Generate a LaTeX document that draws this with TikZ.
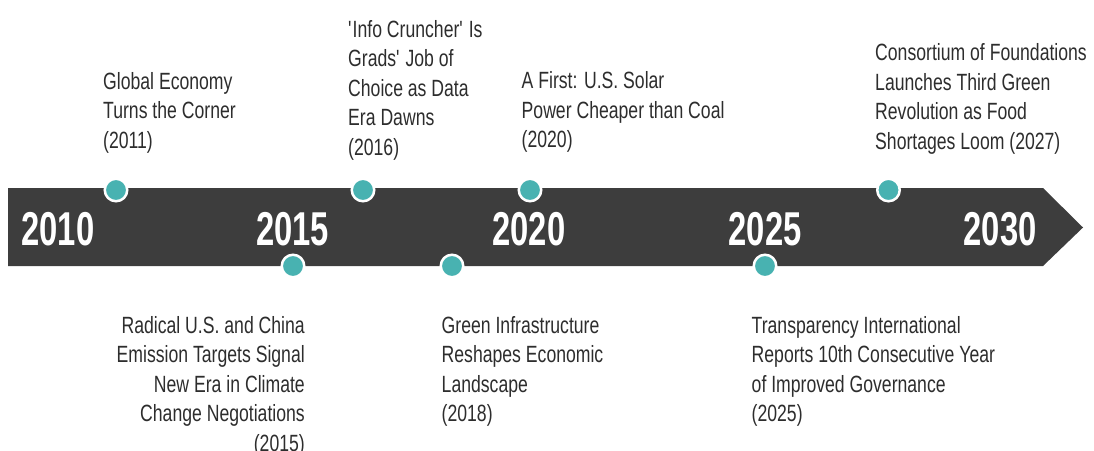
\documentclass[tikz,border=0pt]{standalone}
\usepackage{fontspec}
\setmainfont[FakeStretch=0.75]{Liberation Sans}
\newfontfamily\yearfont[FakeStretch=0.69]{Liberation Sans}
\usetikzlibrary{positioning}
\definecolor{barcolor}{RGB}{61,61,61}
\definecolor{dotcolor}{RGB}{72,178,177}
\definecolor{txtcolor}{RGB}{45,45,45}

\begin{document}
\begin{tikzpicture}[x=1pt,y=-1pt,
  event/.style={inner sep=0pt,text=txtcolor,font=\fontsize{23.5}{29.5}\selectfont},
  year/.style={inner sep=0pt,text=white,anchor=base,font=\yearfont\bfseries\fontsize{47.5}{50}\selectfont},
  dot/.style={circle,fill=dotcolor,draw=white,line width=2.5pt,minimum size=22.5pt,inner sep=0pt}]

  \useasboundingbox (0,0) rectangle (1094,450);

  % timeline bar
  \fill[barcolor] (8,188) -- (1043,188) -- (1083,227.5) -- (1043,266) -- (8,266) -- cycle;

  \node[year] (y2010) at (58,245) {2010};
  \node[year] (y2015) at (292.5,245) {2015};
  \node[year] (y2020) at (529,245) {2020};
  \node[year] (y2025) at (765,245) {2025};
  \node[year] (y2030) at (1000,245) {2030};

  % dots on the bar
  \node[dot] (d2011) at (116,190) {};
  \node[dot] (d2015) at (293,266) {};
  \node[dot] (d2016) at (363,190) {};
  \node[dot] (d2018) at (452,266) {};
  \node[dot] (d2020) at (530,190) {};
  \node[dot] (d2025) at (765,266) {};
  \node[dot] (d2027) at (888.5,190) {};

  % events above (anchored at the last line)
  \node[event, anchor=base west, align=left] (e2011) at (103,148)
    {Global Economy\\Turns the Corner\\(2011)};
  \node[event, anchor=base west, align=left] (e2016) at (348,155)
    {\textquotesingle Info Cruncher\textquotesingle{} Is\\Grads\textquotesingle{} Job of\\Choice as Data\\Era Dawns\\(2016)};
  \node[event, anchor=base west, align=left] (e2020) at (521.5,147.5)
    {A First: U.S. Solar\\Power Cheaper than Coal\\(2020)};
  \node[event, anchor=base west, align=left] (e2027) at (875,149)
    {Consortium of Foundations\\Launches Third Green\\Revolution as Food\\Shortages Loom (2027)};

  % events below
  \node[event, anchor=base east, align=right] (e2015) at (305,451)
    {Radical U.S. and China\\Emission Targets Signal\\New Era in Climate\\Change Negotiations\\(2015)};
  \node[event, anchor=base west, align=left] (e2018) at (441.5,421.5)
    {Green Infrastructure\\Reshapes Economic\\Landscape\\(2018)};
  \node[event, anchor=base west, align=left] (e2025) at (751.5,421.5)
    {Transparency International\\Reports 10th Consecutive Year\\of Improved Governance\\(2025)};

\end{tikzpicture}
\end{document}
